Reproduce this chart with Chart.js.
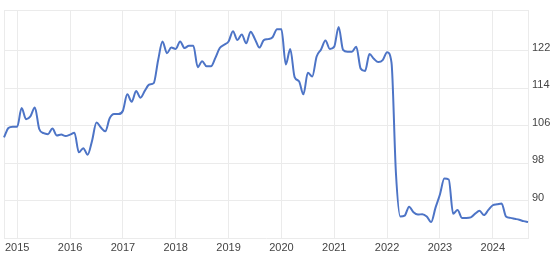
<!DOCTYPE html>
<html>
<head>
<meta charset="utf-8">
<script src="https://cdn.jsdelivr.net/npm/chart.js@4.4.1/dist/chart.umd.min.js"></script>
<style>
  html, body { margin: 0; padding: 0; background: #fff; }
  #wrap { width: 554px; height: 258px; position: relative; }
</style>
</head>
<body>
<div id="wrap"><canvas id="linechart"></canvas></div>
<script>
// monthly values, Oct 2014 .. Sep 2024
const values = [
  103.5, 105.5, 105.8, 105.8, 109.8, 107.4, 108.0, 109.9, 105.3, 104.4, 104.2, 105.4,
  103.9, 104.1, 103.8, 104.1, 104.5, 100.3, 101.2, 99.8, 102.8, 106.7, 105.6, 104.8,
  107.6, 108.5, 108.5, 109.2, 112.7, 111.1, 113.4, 112.0, 113.5, 114.8, 115.1, 120.0,
  124.0, 121.5, 122.7, 122.4, 124.0, 122.6, 123.1, 123.1, 118.5, 119.8, 118.7, 118.7,
  120.5, 122.6, 123.3, 124.0, 126.2, 124.3, 125.5, 123.6, 126.1, 124.5, 122.7, 124.3,
  124.5, 124.9, 126.6, 126.6, 119.1, 122.4, 116.4, 115.5, 112.7, 117.3, 116.5, 120.8,
  122.3, 124.2, 122.4, 122.9, 127.1, 122.2, 121.8, 121.8, 122.9, 118.2, 117.7, 121.3,
  120.3, 119.6, 120.0, 121.7, 119.5, 96.0, 86.6, 86.8, 88.7, 87.5, 87.0, 87.1,
  86.6, 85.4, 88.5, 91.3, 94.7, 94.5, 87.2, 88.0, 86.3, 86.3, 86.4, 87.2,
  87.8, 86.9, 88.0, 89.0, 89.2, 89.4, 86.6, 86.3, 86.1, 85.9, 85.6, 85.4
];
const startYear = 2014, startMonth = 10;
const yearTicks = ['2015', '2016', '2017', '2018', '2019', '2020', '2021', '2022', '2023', '2024'];
const yTicks = [90, 98, 106, 114, 122];
const yMin = 82, yMax = 130.6;

// month labels like 2014-10
const labels = [];
for (let i = 0; i < values.length; i++) {
  const m = (startMonth - 1 + i) % 12 + 1;
  const y = startYear + Math.floor((startMonth - 1 + i) / 12);
  labels.push(y + '-' + (m < 10 ? '0' + m : m));
}

const gridColor = '#ebebeb';
const font = { family: "'Liberation Sans', Arial, sans-serif", size: 11 };

document.addEventListener("DOMContentLoaded", function () {
  const ctx = document.getElementById('linechart');
  new Chart(ctx, {
    type: 'line',
    data: {
      labels: labels,
      datasets: [{
        data: values,
        borderColor: '#4d74c6',
        borderWidth: 2,
        pointRadius: 0,
        fill: false,
        cubicInterpolationMode: 'monotone'
      }]
    },
    options: {
      responsive: true,
      maintainAspectRatio: false,
      animation: false,
      layout: { padding: { left: 4, top: 4, right: 0, bottom: 0 } },
      plugins: { legend: { display: false }, tooltip: { enabled: false } },
      scales: {
        x: {
          ticks: {
            autoSkip: false,
            maxRotation: 0,
            color: '#444',
            font: font,
            padding: 3,
            callback: function (val, idx) {
              if (idx === 0) return ''; // left border line
              const lab = labels[idx];
              const yr = lab.slice(0, 4);
              if (lab.slice(5) === '01' && yearTicks.includes(yr)) return yr;
              return null;
            }
          },
          grid: { color: gridColor, drawTicks: false },
          border: { display: true, color: gridColor },
          afterFit: function (scale) { scale.height = 20; }
        },
        y: {
          position: 'right',
          min: yMin,
          max: yMax,
          afterBuildTicks: function (scale) {
            scale.ticks = yTicks.concat([yMax]).map(v => ({ value: v }));
          },
          ticks: {
            color: '#444',
            font: font,
            padding: 4,
            labelOffset: -3,
            callback: function (v) { return v === yMax ? '' : v; }
          },
          grid: { color: gridColor, drawTicks: false },
          border: { display: true, color: gridColor },
          afterFit: function (scale) { scale.width = 26; }
        }
      }
    }
  });
});
</script>
</body>
</html>
